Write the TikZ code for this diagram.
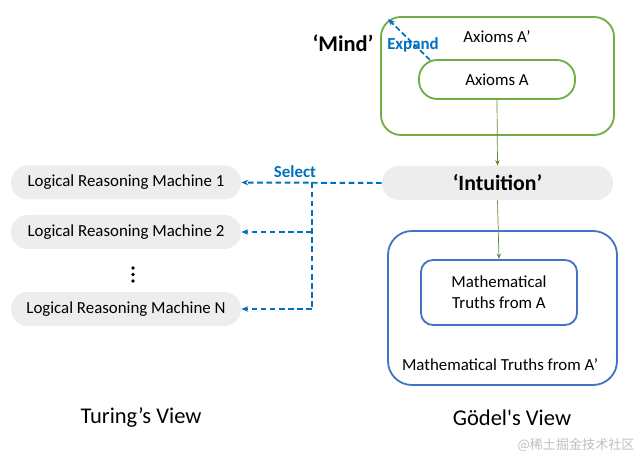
\documentclass[tikz,border=0pt]{standalone}
\usepackage{fontspec}
\setmainfont{Carlito}
\newfontfamily\straightfont[Ligatures=TeXReset]{Carlito}
\newfontfamily\cjk{Noto Sans CJK SC}
\usetikzlibrary{arrows.meta}
\definecolor{axgreen}{HTML}{70AD47}
\definecolor{arrgreen}{HTML}{5E8C3A}
\definecolor{truthblue}{HTML}{4472C4}
\definecolor{selblue}{HTML}{0070C0}
\definecolor{pillgray}{HTML}{EDEDED}

\begin{document}
\begin{tikzpicture}[x=0.025cm,y=-0.025cm,
  pill/.style={fill=pillgray, rounded corners=0.42cm, minimum width=5.75cm, minimum height=0.85cm, font=\fontsize{12}{14}\selectfont},
  thinarrow/.style={arrgreen, line width=0.5pt, -{Stealth[length=4pt,width=3pt]}},
  selarrow/.style={selblue, line width=1.4pt, dash pattern=on 4pt off 2.5pt, -{Stealth[length=5pt,width=4pt]}}]
\useasboundingbox (0,0) rectangle (640,457);
% mind
\node[draw=axgreen, line width=1.3pt, rounded corners=0.5cm, minimum width=5.825cm, minimum height=2.95cm] (axA') at (497.5,76) {};
\node[draw=axgreen, line width=1.3pt, rounded corners=0.46cm, minimum width=3.9cm, minimum height=0.975cm, font=\fontsize{12}{14}\selectfont] (axA) at (497,79.5) {Axioms A};
\node[font=\fontsize{12}{14}\selectfont] (axAtext) at (497,37) {Axioms A’};
\node[font=\fontsize{16}{18}\bfseries] (mind) at (343,43) {‘Mind’};
\coordinate (expstart) at (430,60);
\coordinate (expend) at (388,19);
\draw[selarrow, line width=1.2pt, dash pattern=on 4pt off 2pt] (expstart) -- (expend);
\node[selblue, font=\fontsize{12}{14}\bfseries] (expand) at (413,45) {Expand};
% intuition
\node[pill, minimum width=5.775cm, font=\fontsize{15.5}{18}\bfseries] (intuition) at (497.5,183) {‘Intuition’};
\draw[thinarrow] (axA.south) -- (intuition.north);
% goedel
\node[draw=truthblue, line width=1.3pt, rounded corners=0.6cm, minimum width=5.725cm, minimum height=3.85cm] (truthA') at (502.5,308) {};
\node[draw=truthblue, line width=1.3pt, rounded corners=0.3cm, minimum width=3.9cm, minimum height=1.625cm, align=center, font=\fontsize{12}{15}\selectfont] (truthA) at (499,292.5) {Mathematical\\Truths from A};
\node[font=\fontsize{12}{14}\selectfont] (truthAtext) at (500,365) {Mathematical Truths from A’};
\draw[thinarrow] (intuition.south) -- (truthA.north);
% turing
\node[pill] (m1) at (126,182.5) {Logical Reasoning Machine 1};
\node[pill] (m2) at (126,232) {Logical Reasoning Machine 2};
\node[pill] (mN) at (126,309) {Logical Reasoning Machine N};
\foreach \y in {268,274.5,281}
  \fill (133,\y) circle (1.4pt);
\coordinate (fork) at (312,182.5);
\coordinate (fork2) at (312,232);
\coordinate (forkN) at (312,309);
\draw[selarrow] (intuition.west) -- (m1.east);
\draw[selarrow, -] (fork) -- (forkN);
\draw[selarrow] (fork2) -- (m2.east);
\draw[selarrow] (forkN) -- (mN.east);
\node[selblue, font=\fontsize{12}{14}\bfseries] (select) at (295,172) {Select};
% views
\node[font=\fontsize{16}{18}\selectfont] (turing) at (141,418) {Turing’s View};
\node[font=\fontsize{16}{18}\straightfont] (goedel) at (512,418) {Gödel's View};
\node[gray!50, font=\fontsize{9.3}{11}\cjk] (mark) at (576,445) {@稀土掘金技术社区};
\end{tikzpicture}
\end{document}
